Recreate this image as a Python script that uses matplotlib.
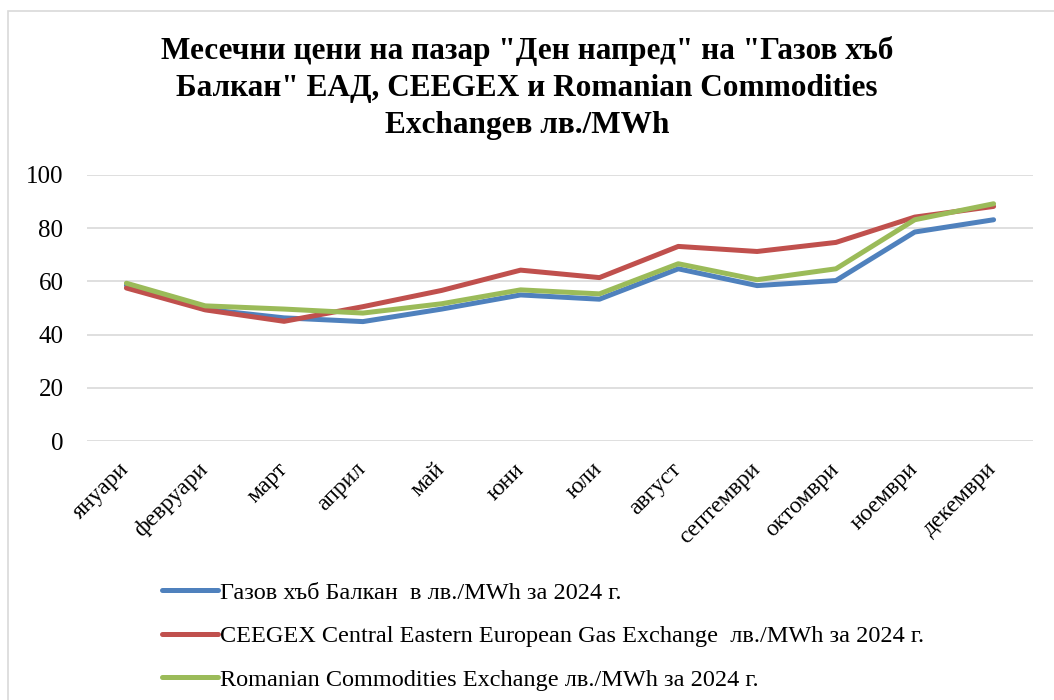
import matplotlib
matplotlib.use("Agg")
import matplotlib.pyplot as plt
from matplotlib.patches import Rectangle
from matplotlib.lines import Line2D

months = ["януари", "февруари", "март", "април", "май", "юни", "юли",
          "август", "септември", "октомври", "ноември", "декември"]
gas_hub_balkan = [58.5, 49.5, 46.3, 44.9, 49.6, 54.9, 53.3, 64.7, 58.4, 60.3, 78.5, 83.1]
ceegex = [57.5, 49.3, 45.0, 50.5, 56.6, 64.2, 61.4, 73.1, 71.2, 74.6, 84.1, 88.1]
romanian_ce = [59.3, 50.8, 49.6, 48.1, 51.6, 56.8, 55.3, 66.6, 60.6, 64.7, 83.1, 89.1]
series_labels = ["Газов хъб Балкан  в лв./MWh за 2024 г.",
                 "CEEGEX Central Eastern European Gas Exchange  лв./MWh за 2024 г.",
                 "Romanian Commodities Exchange лв./MWh за 2024 г."]
yticks = [0, 20, 40, 60, 80, 100]
title = ('Месечни цени на пазар "Ден напред" на "Газов хъб\n'
         'Балкан" ЕАД, CEEGEX и Romanian Commodities\n'
         'Exchangeв лв./MWh')

colors = ["#4F81BD", "#C0504D", "#9BBB59"]
serif = ["Liberation Serif", "DejaVu Serif"]

W, H = 1054, 700
fig = plt.figure(figsize=(W / 100, H / 100), dpi=100)

# chart border
fig.patches.append(Rectangle((8 / W, -0.1), 1.2, 0.1 + (1 - 11 / H),
                             transform=fig.transFigure, fill=False,
                             edgecolor="#D9D9D9", linewidth=1.2))

ax = fig.add_axes([87 / W, (H - 441.3) / H, 946 / W, (441.3 - 174.7) / H])
x = list(range(len(months)))
for vals, c, lab in zip([gas_hub_balkan, ceegex, romanian_ce], colors, series_labels):
    ax.plot(x, vals, color=c, linewidth=3.6, solid_capstyle="round",
            solid_joinstyle="round", label=lab, zorder=3)

ax.set_xlim(-0.5, len(months) - 0.5)
ax.set_ylim(0, 100)
ax.set_yticks(yticks)
ax.set_yticklabels([str(v) for v in yticks], fontfamily=serif, fontsize=18)
ax.set_xticks(x)
ax.set_xticklabels(months, fontfamily=serif, fontsize=17, rotation=45,
                   ha="right", va="center", rotation_mode="anchor")
ax.tick_params(axis="both", length=0)
ax.tick_params(axis="y", pad=17)
ax.tick_params(axis="x", pad=18)
ax.grid(axis="y", color="#D9D9D9", linewidth=1.2)
ax.set_axisbelow(True)
for s in ax.spines.values():
    s.set_visible(False)

fig.text(527 / W, 1 - 88 / H, title, ha="center", va="center",
         fontfamily=serif, fontweight="bold", fontsize=22.5, linespacing=1.38)

handles = [Line2D([0], [0], color=c, linewidth=3.6, solid_capstyle="round")
           for c in colors]
fig.legend(handles, series_labels, loc="upper left",
           bbox_to_anchor=(140 / W, 1 - 560 / H), frameon=False,
           prop={"family": serif, "size": 17.5}, handlelength=2.3,
           handletextpad=0.1, labelspacing=0.88)

fig.savefig("out.png", dpi=100)
